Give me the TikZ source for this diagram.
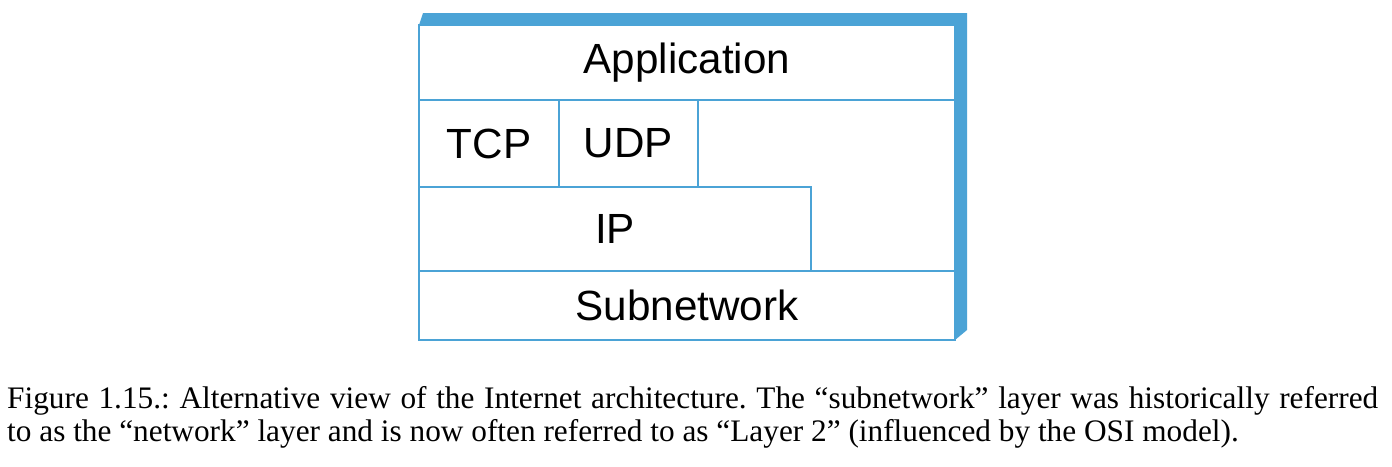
\documentclass[tikz,border=0pt]{standalone}
\usepackage{fontspec}
\setmainfont{Liberation Serif}
\setsansfont{Liberation Sans}
\usetikzlibrary{positioning}
\definecolor{colour_layer}{HTML}{4BA3D6}

\begin{document}
\frenchspacing
\begin{tikzpicture}[
    x=1pt, y=1pt,
    layer/.style={rectangle, draw=colour_layer, line width=2.5pt, inner sep=0pt, outer sep=0pt,
                  font=\sffamily\fontsize{42.2}{50}\selectfont},
    frame/.style={draw=colour_layer, line width=2.5pt},
    caption/.style={anchor=base west, inner sep=0pt,
                    font=\fontsize{31.3}{38}\selectfont}
]
\useasboundingbox (0,0) rectangle (1392,-466);

% Protocol layers
\node[layer, minimum width=536pt, minimum height=75pt, anchor=north west] (app) at (419,-25) {Application};
\node[layer, minimum width=140pt, minimum height=87pt, below right=0pt of app.south west] (tcp) {TCP};
\node[layer, minimum width=139pt, minimum height=87pt, right=0pt of tcp] (udp) {UDP};
\node[layer, minimum width=392pt, minimum height=84pt, below right=0pt of tcp.south west] (ip) {IP};
\node[layer, minimum width=536pt, minimum height=69pt, below right=0pt of ip.south west] (subnet) {Subnetwork};

% Right edge and depth of the stack
\draw[frame] (app.south east) -- (subnet.north east);
\fill[colour_layer] (app.north west) -- ++(4,12) -- ([shift={(12,12)}]app.north east)
    -- ([shift={(12,10)}]subnet.south east) -- (subnet.south east) -- (app.north east) -- cycle;

% Caption
\node[caption] (cap1) at (7,-408) {\makebox[1371pt][s]{Figure 1.15.: Alternative view of the Internet architecture. The “subnetwork” layer was historically referred}};
\node[caption] (cap2) at (7,-441) {to as the “network” layer and is now often referred to as “Layer 2” (influenced by the OSI model).};

\end{tikzpicture}
\end{document}
